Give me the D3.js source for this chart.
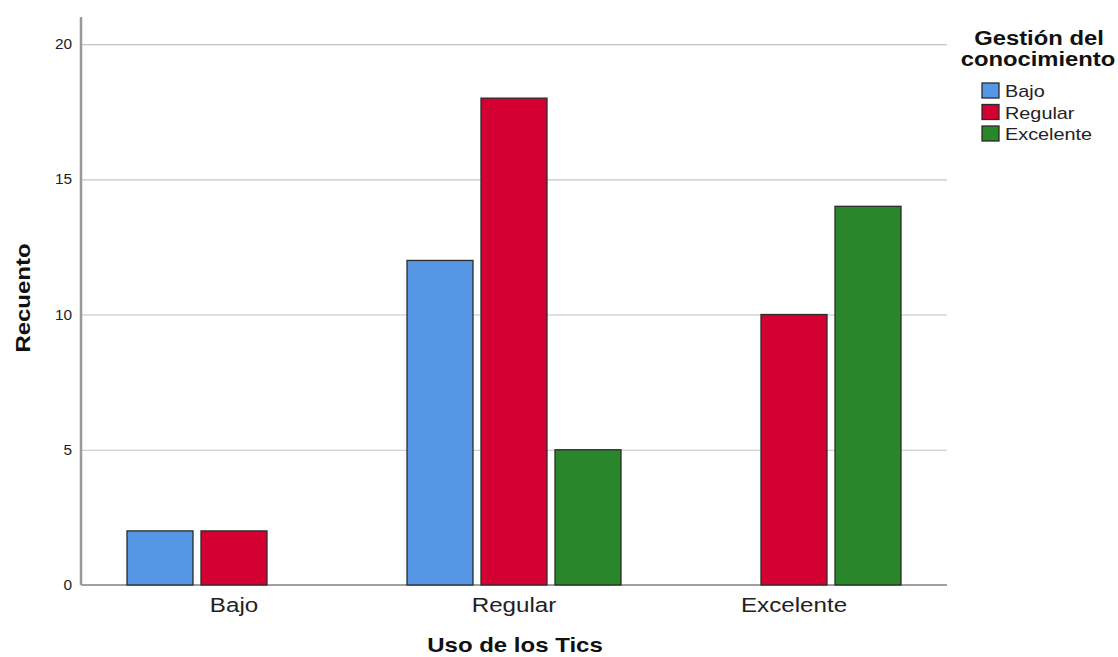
<!DOCTYPE html>
<html>
<head>
<meta charset="utf-8">
<script src="https://cdn.jsdelivr.net/npm/d3@7"></script>
<style>
body{margin:0;background:#fff;}
svg{display:block;font-family:Arial,"Liberation Sans",sans-serif;}
</style>
</head>
<body>
<svg id="chart" width="1118" height="657"></svg>
<script>
const categories = ["Bajo", "Regular", "Excelente"];
const seriesNames = ["Bajo", "Regular", "Excelente"];
const bajoValues = [2, 12, 0];
const regularValues = [2, 18, 10];
const excelenteValues = [0, 5, 14];
const yTicks = [0, 5, 10, 15, 20];
const colors = ["#5596e5", "#d50032", "#2a862a"];

const seriesValues = [bajoValues, regularValues, excelenteValues];
const svg = d3.select("#chart");
const plotLeft = 81, plotRight = 947, plotTop = 17, plotBottom = 585;

const x0 = d3.scaleBand().domain(categories).range([plotLeft + 13, plotRight - 13]).paddingInner(0).paddingOuter(0);
const x1 = d3.scaleBand().domain(seriesNames).range([x0.bandwidth()/2 - 107, x0.bandwidth()/2 + 107]).paddingInner(8/74).paddingOuter(0);
const y = d3.scaleLinear().domain([0, 21]).range([plotBottom, plotTop]);

// helper: horizontally stretched text (reference glyphs are wide)
function stext(g, x, yy, txt, size, sx, anchor, bold, rot) {
  const t = g.append("text")
    .attr("transform", `translate(${x},${yy})` + (rot ? ` rotate(${rot})` : "") + ` scale(${sx},1)`)
    .attr("text-anchor", anchor)
    .attr("font-size", size)
    .attr("fill", bold ? "#111" : "#222")
    .text(txt);
  if (bold) t.attr("font-weight", "bold");
  return t;
}

// gridlines
svg.append("g").selectAll("line").data(yTicks.filter(d => d > 0)).join("line")
  .attr("x1", plotLeft).attr("x2", plotRight)
  .attr("y1", d => y(d) + 0.5).attr("y2", d => y(d) + 0.5)
  .attr("stroke", "#c4c4c4").attr("stroke-width", 1.2);

// y tick labels
const yt = svg.append("g");
yTicks.forEach(t => stext(yt, plotLeft - 9, y(t) + 5, String(t), 14, 1.1, "end", false));

// baseline
svg.append("line").attr("x1", plotLeft).attr("x2", plotRight).attr("y1", plotBottom).attr("y2", plotBottom)
  .attr("stroke", "#808080").attr("stroke-width", 1.5);

// bars
const groups = svg.append("g").selectAll("g").data(categories).join("g")
  .attr("transform", d => `translate(${x0(d)},0)`);
groups.selectAll("rect").data((c, i) => seriesNames.map((s, j) => ({s, v: seriesValues[j][i], j})))
  .join("rect")
  .attr("x", d => x1(d.s)).attr("width", x1.bandwidth())
  .attr("y", d => y(d.v)).attr("height", d => y(0) - y(d.v))
  .attr("fill", d => colors[d.j])
  .attr("stroke", "#2b2b2b").attr("stroke-width", 1.3);

// y axis line
svg.append("line").attr("x1", plotLeft).attr("x2", plotLeft).attr("y1", plotTop).attr("y2", plotBottom)
  .attr("stroke", "#999").attr("stroke-width", 2.5);

// x category labels
const xl = svg.append("g");
categories.forEach(c => stext(xl, x0(c) + x0.bandwidth()/2, 612, c, 19.5, 1.24, "middle", false));

// axis titles
stext(svg, 515, 652, "Uso de los Tics", 20, 1.2, "middle", true);
stext(svg, 30, 298, "Recuento", 20.5, 1.17, "middle", true, -90);

// legend
const lg = svg.append("g");
stext(lg, 1039, 45, "Gestión del", 20, 1.19, "middle", true);
stext(lg, 1038, 66, "conocimiento", 20, 1.19, "middle", true);
seriesNames.forEach((s, i) => {
  const yy = 83 + i * 21.5;
  lg.append("rect").attr("x", 982).attr("y", yy).attr("width", 17).attr("height", 15)
    .attr("fill", colors[i]).attr("stroke", "#2b2b2b").attr("stroke-width", 1.3);
  stext(lg, 1005, yy + 14, s, 16, 1.24, "start", false);
});
</script>
</body>
</html>
